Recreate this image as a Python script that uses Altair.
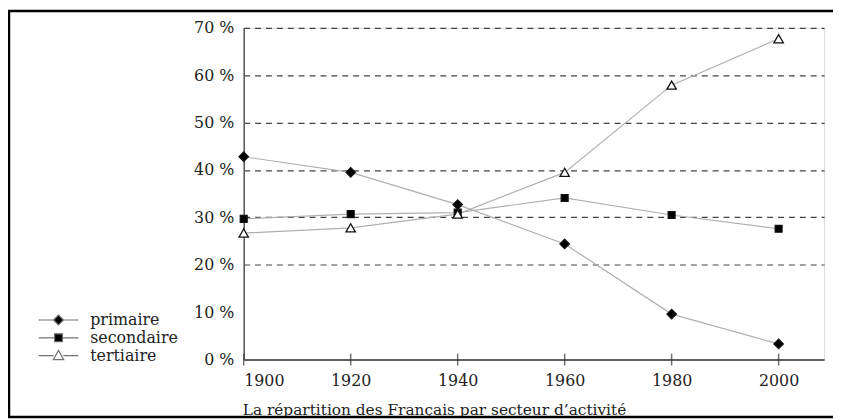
import altair as alt
import pandas as pd

years = [1900, 1920, 1940, 1960, 1980, 2000]
primaire = [42.8, 39.5, 32.7, 24.4, 9.6, 3.3]
secondaire = [29.7, 30.7, 31.0, 34.1, 30.5, 27.6]
tertiaire = [26.7, 27.8, 30.7, 39.5, 57.9, 67.7]
series_names = ["primaire", "secondaire", "tertiaire"]
marker_shapes = ["diamond", "square", "triangle-up"]
marker_fills = ["#000000", "#000000", "#ffffff"]
marker_sizes = [90, 48, 90]
y_ticks = [0, 10, 20, 30, 40, 50, 60, 70]
title_text = "La répartition des Français par secteur d’activité"

# legend symbols: a short line with the marker on it
legend_symbols = [
    "M-4,0H-1M1,0H4M0,-1L1,0L0,1L-1,0Z",
    "M-4,0H-0.8M0.8,0H4M-0.8,-0.8H0.8V0.8H-0.8Z",
    "M-4,0H-1M1,0H4M0,-1.05L1.05,0.8H-1.05Z",
]

rows = []
for name, vals in zip(series_names, [primaire, secondaire, tertiaire]):
    for yr, v in zip(years, vals):
        rows.append({"annee": yr, "secteur": name, "part": v})
df = pd.DataFrame(rows)

FONT = "DejaVu Serif"
TXT = "#222222"

x_scale = alt.Scale(domain=[1900, 2008.5], nice=False, zero=False)
y_scale = alt.Scale(domain=[0, 70], nice=False)

x_enc = alt.X("annee:Q", scale=x_scale, axis=alt.Axis(
    values=years, format="d", title=None, ticks=False, grid=False,
    domainColor="#333333", domainWidth=1.5, labelFont=FONT, labelFontSize=16,
    labelColor=TXT, labelPadding=13))
y_enc = alt.Y("part:Q", scale=y_scale, axis=alt.Axis(
    values=y_ticks, title=None, ticks=False,
    labelExpr="datum.value + ' %'", labelFont=FONT, labelFontSize=16,
    labelColor=TXT, labelPadding=10, domainColor="#555555", domainWidth=1.5,
    grid=True, gridColor="#444444", gridDash=[6, 5], gridWidth=1.2,
    gridOpacity={"condition": {"test": "datum.value < 20", "value": 0}, "value": 1}))

base = alt.Chart(df)

lines = base.mark_line(strokeWidth=1.2, color="#b0b0b0").encode(
    x=x_enc, y=y_enc, detail="secteur:N")

point_layers = []
for name, shp, fl, sz in zip(series_names, marker_shapes, marker_fills, marker_sizes):
    point_layers.append(
        base.transform_filter(alt.datum.secteur == name).mark_point(
            shape=shp, fill=fl, filled=False, stroke="#111111", strokeWidth=1.3,
            size=sz, opacity=1).encode(x="annee:Q", y="part:Q"))

leg = dict(orient="none", legendX=-195, legendY=287, title=None, symbolSize=100,
           labelOffset=24, symbolStrokeWidth=1.2, labelFont=FONT, labelFontSize=16,
           labelColor=TXT, rowPadding=2, padding=0)

legend_layer = base.transform_filter("false").mark_point(
    filled=False, strokeWidth=1.2, opacity=1).encode(
    x="annee:Q", y="part:Q",
    shape=alt.Shape("secteur:N", scale=alt.Scale(domain=series_names, range=legend_symbols),
                    legend=alt.Legend(**leg)),
    fill=alt.Fill("secteur:N", scale=alt.Scale(domain=series_names, range=marker_fills),
                  legend=alt.Legend(**leg)),
    stroke=alt.Stroke("secteur:N", scale=alt.Scale(domain=series_names,
                      range=["#707070", "#707070", "#707070"]),
                      legend=alt.Legend(**leg)),
)

ticks = alt.Chart(pd.DataFrame({"annee": years})).mark_tick(
    size=12, thickness=1.5, color="#333333").encode(
    x=alt.X("annee:Q", scale=x_scale), y=alt.value(335))

caption = alt.Chart(pd.DataFrame({"t": [title_text]})).mark_text(
    align="left", baseline="alphabetic", font=FONT, fontSize=15.5, color=TXT).encode(
    text="t:N", x=alt.value(-1), y=alt.value(391))

frame = alt.Chart(alt.Data(values=[{}])).mark_rect(
    filled=False, stroke="#000000", strokeWidth=2.5).encode(
    x=alt.value(-237), x2=alt.value(610), y=alt.value(-17), y2=alt.value(393))

chart = alt.layer(lines, *point_layers, legend_layer, ticks, caption, frame).properties(
    width=586, height=335,
    autosize=alt.AutoSizeParams(type="none"),
    padding={"left": 238, "top": 18, "right": 9, "bottom": 59},
).configure_view(stroke=None).configure(background="white")

chart.save("out.html", embed_options={"renderer": "svg", "actions": False})
